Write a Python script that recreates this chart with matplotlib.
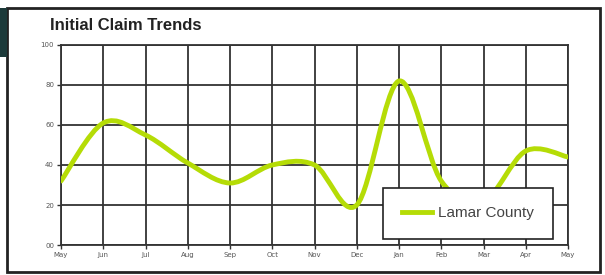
import matplotlib
matplotlib.use("Agg")
import matplotlib.pyplot as plt
from matplotlib.path import Path
from matplotlib.patches import PathPatch, Rectangle
from matplotlib.lines import Line2D
import numpy as np

months = ["May", "Jun", "Jul", "Aug", "Sep", "Oct", "Nov", "Dec", "Jan", "Feb", "Mar", "Apr", "May"]
claims = [32, 61, 55, 41, 31, 40, 40, 20, 82, 32, 22, 47, 44]
yticks = [0, 20, 40, 60, 80, 100]
ytick_labels = ["00", "20", "40", "60", "80", "100"]
series_name = "Lamar County"
title = "Initial Claim Trends"

line_color = "#b5dc06"

fig = plt.figure(figsize=(6.05, 2.75), dpi=100)
ax = fig.add_axes([61/605, 1-245/275, (568-61)/605, 200/275])

# smooth line through the data points (Catmull-Rom -> cubic Bezier path)
x = np.arange(len(claims), dtype=float)
y = np.array(claims, dtype=float)
verts = [(x[0], y[0])]
codes = [Path.MOVETO]
for i in range(len(x) - 1):
    p0 = np.array([x[max(i-1, 0)], y[max(i-1, 0)]])
    p1 = np.array([x[i], y[i]])
    p2 = np.array([x[i+1], y[i+1]])
    p3 = np.array([x[min(i+2, len(x)-1)], y[min(i+2, len(x)-1)]])
    c1 = p1 + (p2 - p0) / 6.0
    c2 = p2 - (p3 - p1) / 6.0
    verts += [tuple(c1), tuple(c2), tuple(p2)]
    codes += [Path.CURVE4] * 3
patch = PathPatch(Path(verts, codes), facecolor="none", edgecolor=line_color,
                  lw=3.5, capstyle="round", joinstyle="round", zorder=3)
ax.add_patch(patch)

ax.set_xlim(0, len(months) - 1)
ax.set_ylim(0, 100)
ax.set_xticks(x)
ax.set_xticklabels(months)
ax.set_yticks(yticks)
ax.set_yticklabels(ytick_labels)
ax.grid(True, color="#333333", lw=1.3)
ax.set_axisbelow(True)
for s in ax.spines.values():
    s.set_color("#333333")
    s.set_linewidth(1.3)
ax.tick_params(length=3, width=1, color="#333333", labelsize=5, labelcolor="#555555", pad=2)

leg_handle = Line2D([], [], color=line_color, lw=3.5)
leg = ax.legend([leg_handle], [series_name], loc="lower right",
                bbox_to_anchor=((553-61)/507, (245-239)/200),
                frameon=True, fancybox=False, edgecolor="#222222", framealpha=1,
                prop={"family": "Liberation Sans", "size": 11}, labelcolor="#444444",
                borderpad=1.22, handlelength=2.0, handletextpad=0.4, borderaxespad=0)
leg.get_frame().set_linewidth(1.2)
leg.set_zorder(5)

fig.text(50/605, 1-25/275, title, fontsize=12, fontweight="bold",
         family="Liberation Sans", color="#222222", va="center", ha="left")

# outer frame
fig.patches.append(Rectangle((7/605, 3/275), (600-7)/605, (267-3)/275, transform=fig.transFigure,
                             fill=False, edgecolor="#222222", lw=2))
fig.patches.append(Rectangle((0, 1-57/275), 7/605, (57-8)/275, transform=fig.transFigure,
                             facecolor="#1c3a3a", edgecolor="none"))

fig.savefig("out.png", dpi=100, facecolor="white")
